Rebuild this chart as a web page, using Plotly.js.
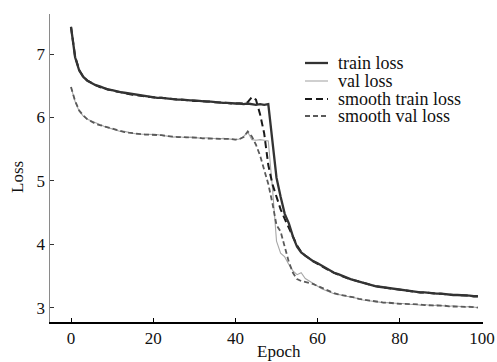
<!DOCTYPE html>
<html>
<head>
<meta charset="utf-8">
<script src="https://cdn.plot.ly/plotly-3.0.1.min.js"></script>
<style>html,body{margin:0;padding:0;background:#fff;}#chart{width:497px;height:362px;}</style>
</head>
<body>
<div id="chart"></div>
<script>
// ---- data ----
const epochs = [0,1,2,3,4,5,6,7,8,9,10,11,12,13,14,15,16,17,18,19,20,21,22,23,24,25,26,27,28,29,30,31,32,33,34,35,36,37,38,39,40,41,42,43,44,45,46,47,48,49,50,51,52,53,54,55,56,57,58,59,60,61,62,63,64,65,66,67,68,69,70,71,72,73,74,75,76,77,78,79,80,81,82,83,84,85,86,87,88,89,90,91,92,93,94,95,96,97,98,99];

const trainLoss = [7.43,6.95,6.74,6.64,6.58,6.54,6.51,6.49,6.46,6.44,6.43,6.41,6.40,6.39,6.38,6.36,6.36,6.34,6.33,6.33,6.32,6.31,6.31,6.30,6.30,6.29,6.28,6.28,6.27,6.27,6.27,6.26,6.26,6.25,6.25,6.24,6.24,6.23,6.23,6.22,6.22,6.22,6.21,6.22,6.21,6.20,6.21,6.20,6.21,5.60,5.05,4.75,4.48,4.33,4.12,3.96,3.87,3.82,3.77,3.73,3.70,3.66,3.62,3.58,3.55,3.53,3.50,3.47,3.45,3.43,3.41,3.39,3.37,3.36,3.34,3.33,3.32,3.31,3.30,3.29,3.28,3.27,3.26,3.26,3.25,3.24,3.24,3.23,3.23,3.22,3.22,3.21,3.21,3.20,3.20,3.20,3.19,3.19,3.18,3.18];

const valLoss = [6.48,6.25,6.10,6.02,5.97,5.94,5.91,5.88,5.86,5.84,5.82,5.80,5.78,5.78,5.76,5.75,5.74,5.74,5.73,5.73,5.74,5.73,5.72,5.71,5.70,5.69,5.70,5.69,5.68,5.69,5.68,5.68,5.67,5.68,5.67,5.67,5.66,5.67,5.66,5.66,5.65,5.66,5.70,5.77,5.65,5.64,5.65,5.64,5.63,4.90,4.05,3.86,3.80,3.68,3.58,3.52,3.55,3.46,3.42,3.37,3.33,3.30,3.27,3.24,3.22,3.21,3.19,3.18,3.17,3.16,3.14,3.12,3.11,3.10,3.09,3.09,3.08,3.08,3.07,3.07,3.07,3.06,3.06,3.05,3.05,3.04,3.05,3.04,3.03,3.04,3.03,3.03,3.02,3.03,3.02,3.02,3.01,3.02,3.01,3.00];

const smoothTrainLoss = [7.43,6.96,6.75,6.64,6.58,6.54,6.51,6.48,6.46,6.44,6.42,6.41,6.40,6.38,6.37,6.36,6.35,6.34,6.33,6.33,6.32,6.31,6.31,6.30,6.29,6.29,6.28,6.28,6.27,6.27,6.26,6.26,6.26,6.25,6.25,6.24,6.24,6.23,6.23,6.22,6.22,6.22,6.22,6.24,6.32,6.28,6.05,5.75,5.25,4.95,4.75,4.55,4.40,4.25,4.12,3.98,3.88,3.82,3.77,3.73,3.69,3.65,3.62,3.58,3.55,3.52,3.50,3.47,3.45,3.43,3.41,3.39,3.37,3.36,3.34,3.33,3.32,3.31,3.30,3.29,3.28,3.27,3.26,3.26,3.25,3.24,3.24,3.23,3.23,3.22,3.22,3.21,3.21,3.20,3.20,3.20,3.19,3.19,3.18,3.18];

const smoothValLoss = [6.48,6.26,6.11,6.03,5.97,5.93,5.90,5.88,5.86,5.84,5.82,5.80,5.79,5.77,5.76,5.75,5.74,5.74,5.73,5.73,5.73,5.72,5.72,5.71,5.70,5.70,5.69,5.69,5.69,5.68,5.68,5.68,5.67,5.67,5.67,5.67,5.66,5.66,5.66,5.66,5.65,5.66,5.69,5.78,5.70,5.57,5.40,5.18,4.95,4.65,4.30,4.20,3.98,3.72,3.55,3.45,3.42,3.41,3.39,3.37,3.34,3.31,3.28,3.25,3.23,3.21,3.20,3.18,3.17,3.16,3.14,3.13,3.11,3.10,3.10,3.09,3.08,3.08,3.07,3.07,3.06,3.06,3.06,3.05,3.05,3.05,3.04,3.04,3.04,3.03,3.03,3.03,3.02,3.02,3.02,3.02,3.01,3.01,3.01,3.00];

const seriesNames = ["train loss","val loss","smooth train loss","smooth val loss"];
const xTicks = [0,20,40,60,80,100];
const yTicks = [3,4,5,6,7];
const xTitle = "Epoch";
const yTitle = "Loss";

// ---- styles ----
const styles = [
  {color:"#333333", width:2.3, dash:"solid"},
  {color:"#a8a8a8", width:1.1, dash:"solid"},
  {color:"#1a1a1a", width:2.0, dash:"7px,4px"},
  {color:"#5a5a5a", width:1.8, dash:"5px,3px"}
];
const seriesData = [trainLoss, valLoss, smoothTrainLoss, smoothValLoss];
const drawOrder = [1,3,2,0];

const traces = drawOrder.map(i => ({
  x: epochs, y: seriesData[i], type:"scatter", mode:"lines", name: seriesNames[i],
  line:{color:styles[i].color, width:styles[i].width, dash:styles[i].dash},
  showlegend:false, hoverinfo:"skip"
}));

const M = {l:50, r:14, t:14, b:40};
const W = 497, H = 362;
const pw = W - M.l - M.r, ph = H - M.t - M.b;
const px2x = p => (p - M.l) / pw;
const px2y = p => (H - M.b - p) / ph;

const font = "Liberation Serif, Times New Roman, serif";
const annotations = [
  {text:xTitle, xref:"paper", yref:"paper", x:px2x(279), y:px2y(351), xanchor:"center", yanchor:"middle", showarrow:false, font:{family:font, size:17, color:"#111"}},
  {text:yTitle, xref:"paper", yref:"paper", x:px2x(17), y:px2y(177), xanchor:"center", yanchor:"middle", textangle:-90, showarrow:false, font:{family:font, size:17, color:"#111"}}
];
const shapes = [];
const rowsY = [63, 81, 99, 116];
seriesNames.forEach((n, i) => {
  annotations.push({text:n, xref:"paper", yref:"paper", x:px2x(336), y:px2y(rowsY[i]), xanchor:"left", yanchor:"middle", showarrow:false, font:{family:font, size:18, color:"#111"}});
  shapes.push({type:"line", xref:"paper", yref:"paper", x0:px2x(305), x1:px2x(328), y0:px2y(rowsY[i]), y1:px2y(rowsY[i]),
    line:{color:styles[i].color, width:styles[i].width, dash:styles[i].dash}});
});

const layout = {
  width:W, height:H, margin:M, paper_bgcolor:"#fff", plot_bgcolor:"#fff",
  font:{family:font, size:17, color:"#111"},
  showlegend:false,
  xaxis:{range:[-5.11,100.24], tickvals:xTicks, ticktext:xTicks.map(String), ticks:"inside", ticklen:4, tickwidth:1, tickcolor:"#000",
    showline:true, linecolor:"#000", linewidth:1.5, showgrid:false, zeroline:false, tickfont:{family:font, size:17, color:"#111"}},
  yaxis:{range:[2.774,7.632], tickvals:yTicks, ticktext:yTicks.map(String), ticks:"inside", ticklen:4, tickwidth:1, tickcolor:"#333",
    showline:true, linecolor:"#8a8a8a", linewidth:1.5, showgrid:false, zeroline:false, tickfont:{family:font, size:17, color:"#111"}},
  annotations: annotations,
  shapes: shapes
};

Plotly.newPlot("chart", traces, layout, {staticPlot:true, displayModeBar:false});
</script>
</body>
</html>
